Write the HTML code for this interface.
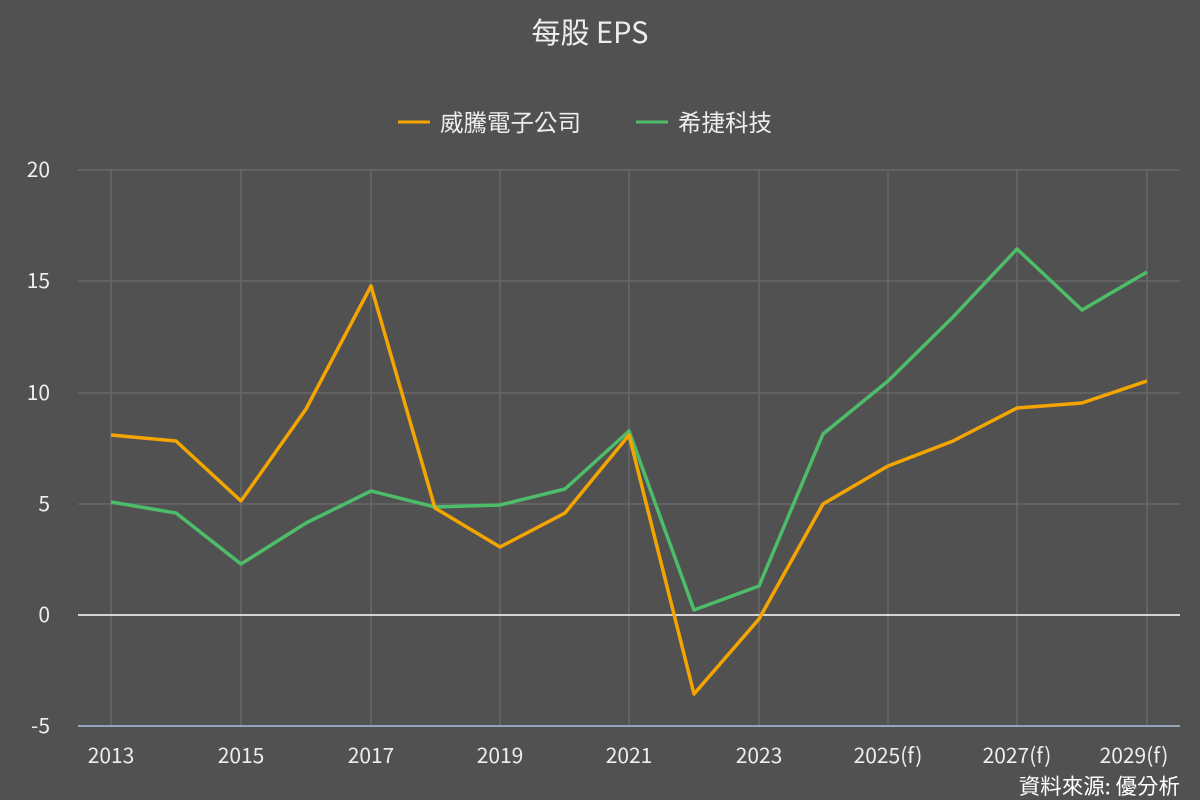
<!DOCTYPE html>
<html><head><meta charset="utf-8"><style>
html,body{margin:0;padding:0;background:#515151;}
svg{display:block;font-family:"Noto Sans CJK TC","Liberation Sans",sans-serif;}
</style></head><body>
<svg width="1200" height="800" viewBox="0 0 1200 800">
<rect width="1200" height="800" fill="#515151"/>
<text x="590" y="43" fill="#eeeeee" font-size="29" text-anchor="middle">每股 EPS</text>
<line x1="398" y1="122" x2="430" y2="122" stroke="#f5a500" stroke-width="3"/>
<text x="440" y="131" fill="#eeeeee" font-size="23.5">威騰電子公司</text>
<line x1="636" y1="122" x2="668" y2="122" stroke="#4dbd6a" stroke-width="3"/>
<text x="678" y="131" fill="#eeeeee" font-size="23.5">希捷科技</text>
<g stroke="#686868" stroke-width="1.5">
<line x1="78" y1="170" x2="1180" y2="170"/>
<line x1="78" y1="281" x2="1180" y2="281"/>
<line x1="78" y1="393" x2="1180" y2="393"/>
<line x1="78" y1="504" x2="1180" y2="504"/>
<line x1="111" y1="170" x2="111" y2="726"/><line x1="241" y1="170" x2="241" y2="726"/>
<line x1="371" y1="170" x2="371" y2="726"/><line x1="500" y1="170" x2="500" y2="726"/>
<line x1="629" y1="170" x2="629" y2="726"/><line x1="759" y1="170" x2="759" y2="726"/>
<line x1="888" y1="170" x2="888" y2="726"/><line x1="1017" y1="170" x2="1017" y2="726"/>
<line x1="1147" y1="170" x2="1147" y2="726"/>
</g>
<line x1="78" y1="615" x2="1180" y2="615" stroke="#ffffff" stroke-width="1.5"/>
<line x1="78" y1="726" x2="1180" y2="726" stroke="#a8c4e0" stroke-width="1.5"/>
<g fill="#eeeeee" font-size="21" text-anchor="end">
<text x="50" y="177">20</text><text x="50" y="288">15</text><text x="50" y="400">10</text>
<text x="50" y="511">5</text><text x="50" y="622">0</text><text x="50" y="733">-5</text>
</g>
<g fill="#eeeeee" font-size="21" text-anchor="middle">
<text x="111" y="763">2013</text><text x="241" y="763">2015</text><text x="371" y="763">2017</text>
<text x="500" y="763">2019</text><text x="629" y="763">2021</text><text x="759" y="763">2023</text>
<text x="888" y="763">2025(f)</text><text x="1017" y="763">2027(f)</text><text x="1134" y="763">2029(f)</text>
</g>
<text x="1180" y="794" fill="#ffffff" font-size="21.5" text-anchor="end">資料來源: 優分析</text>
<polyline fill="none" stroke="#4dbd6a" stroke-width="3.5" stroke-linejoin="round" points="111,502 176,513 241,564 306,523 371,491 435,507 500,505 565,489 629,431 694,610 759,586 823,434 888,381 953,317 1017,249 1082,310 1147,272"/>
<polyline fill="none" stroke="#f5a500" stroke-width="3.5" stroke-linejoin="round" points="111,435 176,441 241,501 306,409 371,286 435,508 500,547 565,513 629,435 694,694 759,619 823,504 888,466 953,441 1017,408 1082,403 1147,381"/>
</svg>
</body></html>
